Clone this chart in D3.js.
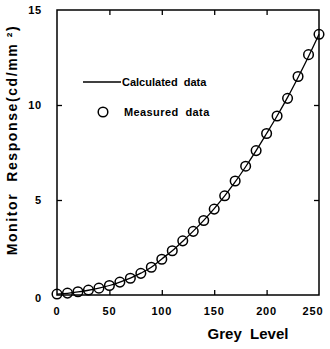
<!DOCTYPE html>
<html>
<head>
<meta charset="utf-8">
<script src="https://cdn.jsdelivr.net/npm/d3@7"></script>
<style>
  body { margin: 0; background: #fff; }
  svg { display: block; font-family: "Liberation Sans", Arial, sans-serif; font-weight: bold; }
</style>
</head>
<body>
<script>
const greyLevels = [0, 10, 20, 30, 40, 50, 60, 70, 80, 90, 100, 110, 120, 130, 140, 150, 160, 170, 180, 190, 200, 210, 220, 230, 240, 250];
const measured = [0.05, 0.1, 0.17, 0.26, 0.36, 0.5, 0.68, 0.88, 1.14, 1.46, 1.88, 2.33, 2.85, 3.35, 3.92, 4.52, 5.22, 6.0, 6.78, 7.6, 8.5, 9.42, 10.35, 11.5, 12.65, 13.72];
const calculated = [0.05, 0.09, 0.16, 0.25, 0.36, 0.5, 0.68, 0.89, 1.15, 1.46, 1.9, 2.33, 2.83, 3.36, 3.93, 4.55, 5.22, 5.95, 6.75, 7.6, 8.5, 9.42, 10.4, 11.45, 12.55, 13.72];
const xTicks = [0, 50, 100, 150, 200, 250];
const yTicks = [0, 5, 10, 15];

const svgWidth = 330, svgHeight = 349;
const plotLeft = 57, plotRight = 319, plotTop = 10, plotBottom = 295;

const x = d3.scaleLinear().domain([0, 250]).range([plotLeft, plotRight]);
const y = d3.scaleLinear().domain([0, 15]).range([plotBottom, plotTop]);

const svg = d3.select("body").append("svg")
  .attr("width", svgWidth)
  .attr("height", svgHeight);

// frame
svg.append("rect")
  .attr("x", plotLeft).attr("y", plotTop)
  .attr("width", plotRight - plotLeft).attr("height", plotBottom - plotTop)
  .attr("fill", "none").attr("stroke", "#000").attr("stroke-width", 1.5);

// inner ticks on all four sides
const tickLen = 5;
svg.append("g").attr("transform", "translate(0," + plotBottom + ")")
  .call(d3.axisBottom(x).tickValues(xTicks.slice(1, -1)).tickSize(-tickLen).tickFormat(""))
  .call(g => g.select(".domain").remove());
svg.append("g").attr("transform", "translate(0," + plotTop + ")")
  .call(d3.axisTop(x).tickValues(xTicks.slice(1, -1)).tickSize(-tickLen).tickFormat(""))
  .call(g => g.select(".domain").remove());
svg.append("g").attr("transform", "translate(" + plotLeft + ",0)")
  .call(d3.axisLeft(y).tickValues(yTicks.slice(1, -1)).tickSize(-tickLen).tickFormat(""))
  .call(g => g.select(".domain").remove());
svg.append("g").attr("transform", "translate(" + plotRight + ",0)")
  .call(d3.axisRight(y).tickValues(yTicks.slice(1, -1)).tickSize(-tickLen).tickFormat(""))
  .call(g => g.select(".domain").remove());
svg.selectAll(".tick line").attr("stroke", "#000").attr("stroke-width", 1.3);

// tick labels
svg.append("g").selectAll("text")
  .data(xTicks).enter().append("text")
  .attr("x", d => x(d) - (d === 250 ? 6 : 0))
  .attr("y", 315)
  .attr("text-anchor", "middle")
  .attr("font-size", 11)
  .attr("letter-spacing", 0.8)
  .text(d => d);

svg.append("g").selectAll("text")
  .data(yTicks).enter().append("text")
  .attr("x", 42)
  .attr("y", d => y(d) + 4 + (d === 0 ? 3 : 0))
  .attr("text-anchor", "end")
  .attr("font-size", 11)
  .attr("letter-spacing", 0.8)
  .text(d => d);

// axis titles
svg.append("text")
  .attr("x", 248).attr("y", 339)
  .attr("text-anchor", "middle")
  .attr("font-size", 15)
  .attr("xml:space", "preserve")
  .text("Grey  Level");

svg.append("text")
  .attr("transform", "translate(17,140) rotate(-90)")
  .attr("text-anchor", "middle")
  .attr("font-size", 14)
  .attr("letter-spacing", 1.6)
  .attr("xml:space", "preserve")
  .text("Monitor  Response(cd/mm ²)");

// calculated curve
const line = d3.line()
  .x((d, i) => x(greyLevels[i]))
  .y(d => y(d))
  .curve(d3.curveMonotoneX);

svg.append("path")
  .datum(calculated)
  .attr("d", line)
  .attr("fill", "none")
  .attr("stroke", "#000")
  .attr("stroke-width", 1.3);

// measured circles
svg.append("g").selectAll("circle")
  .data(measured).enter().append("circle")
  .attr("cx", (d, i) => x(greyLevels[i]))
  .attr("cy", d => y(d))
  .attr("r", 4.8)
  .attr("fill", "none")
  .attr("stroke", "#000")
  .attr("stroke-width", 1.5);

// legend
svg.append("line")
  .attr("x1", 83).attr("x2", 121).attr("y1", 82).attr("y2", 82)
  .attr("stroke", "#000").attr("stroke-width", 1.3);
svg.append("text")
  .attr("x", 122).attr("y", 86)
  .attr("font-size", 11)
  .attr("xml:space", "preserve")
  .text("Calculated  data");
svg.append("circle")
  .attr("cx", 103).attr("cy", 112).attr("r", 4.8)
  .attr("fill", "none").attr("stroke", "#000").attr("stroke-width", 1.5);
svg.append("text")
  .attr("x", 124).attr("y", 116)
  .attr("font-size", 11)
  .attr("letter-spacing", 0.4)
  .attr("xml:space", "preserve")
  .text("Measured  data");
</script>
</body>
</html>
